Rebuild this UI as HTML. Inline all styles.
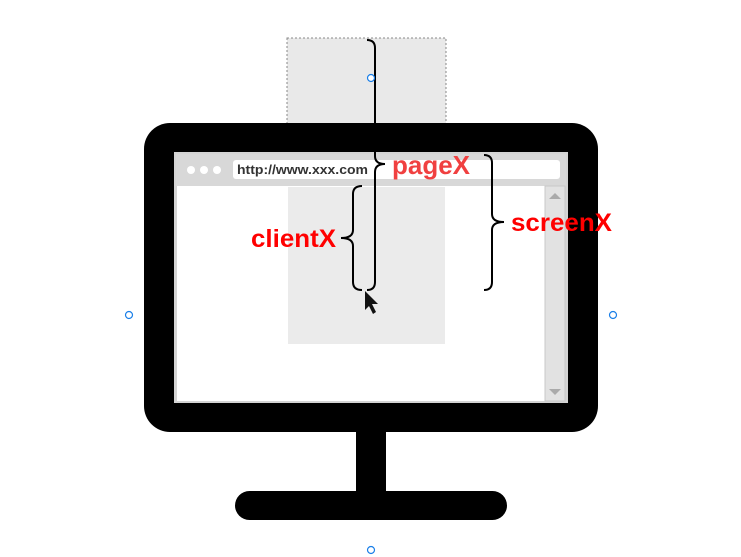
<!DOCTYPE html>
<html><head><style>body{margin:0;background:#fff}svg{display:block}</style></head>
<body>
<svg width="741" height="557" viewBox="0 0 741 557" xmlns="http://www.w3.org/2000/svg" font-family="Liberation Sans, sans-serif">
<rect x="287" y="38" width="159" height="90" fill="#e9e9e9" stroke="#888" stroke-dasharray="2,2"/>
<rect x="144" y="123" width="454" height="309" rx="26" fill="#000"/>
<rect x="174" y="152" width="394" height="251" fill="#d4d4d4"/>
<rect x="176" y="154" width="390" height="32" fill="#d8d8d8"/>
<rect x="177" y="186" width="368" height="215" fill="#fff"/>
<rect x="288" y="187" width="157" height="157" fill="#ebebeb"/>
<rect x="545" y="186" width="20" height="215" fill="#e2e2e2" stroke="#c8c8c8"/>
<polygon points="549,199 561,199 555,193" fill="#aaa"/>
<polygon points="549,389 561,389 555,395" fill="#aaa"/>
<rect x="233" y="160" width="327" height="19" rx="3" fill="#fff"/>
<circle cx="191" cy="170" r="4" fill="#fff"/><circle cx="204" cy="170" r="4" fill="#fff"/><circle cx="217" cy="170" r="4" fill="#fff"/>
<text x="237" y="174" font-size="13" font-weight="bold" fill="#333" textLength="131" lengthAdjust="spacingAndGlyphs">http://www.xxx.com</text>
<rect x="356" y="430" width="30" height="63" fill="#000"/>
<rect x="235" y="491" width="272" height="29" rx="14.5" fill="#000"/>
<g fill="none" stroke="#000" stroke-width="2">
<path d="M367,40 Q375,40 375,48 L375,156 Q375,164 385,164 Q375,164 375,172 L375,282 Q375,290 367,290"/>
<path d="M362,186 Q353,186 353,194 L353,230 Q353,238 341,238 Q353,238 353,246 L353,282 Q353,290 362,290"/>
<path d="M484,155 Q492,155 492,163 L492,214 Q492,222 504,222 Q492,222 492,230 L492,282 Q492,290 484,290"/>
</g>
<polygon points="365,291 365,310 369,306 373,314 376,312 372,304 378,304" fill="#111"/>
<text x="392" y="174" font-size="26" font-weight="bold" fill="#f04040" textLength="78" lengthAdjust="spacingAndGlyphs">pageX</text>
<text x="251" y="247" font-size="25" font-weight="bold" fill="#ff0000" textLength="85" lengthAdjust="spacingAndGlyphs">clientX</text>
<text x="511" y="231" font-size="25" font-weight="bold" fill="#ff0000" textLength="101" lengthAdjust="spacingAndGlyphs">screenX</text>
<g fill="#fff" stroke="#1a7fe8" stroke-width="1.2">
<circle cx="371" cy="78" r="3.5"/><circle cx="129" cy="315" r="3.5"/><circle cx="613" cy="315" r="3.5"/><circle cx="371" cy="550" r="3.5"/>
</g>
</svg>
</body></html>
